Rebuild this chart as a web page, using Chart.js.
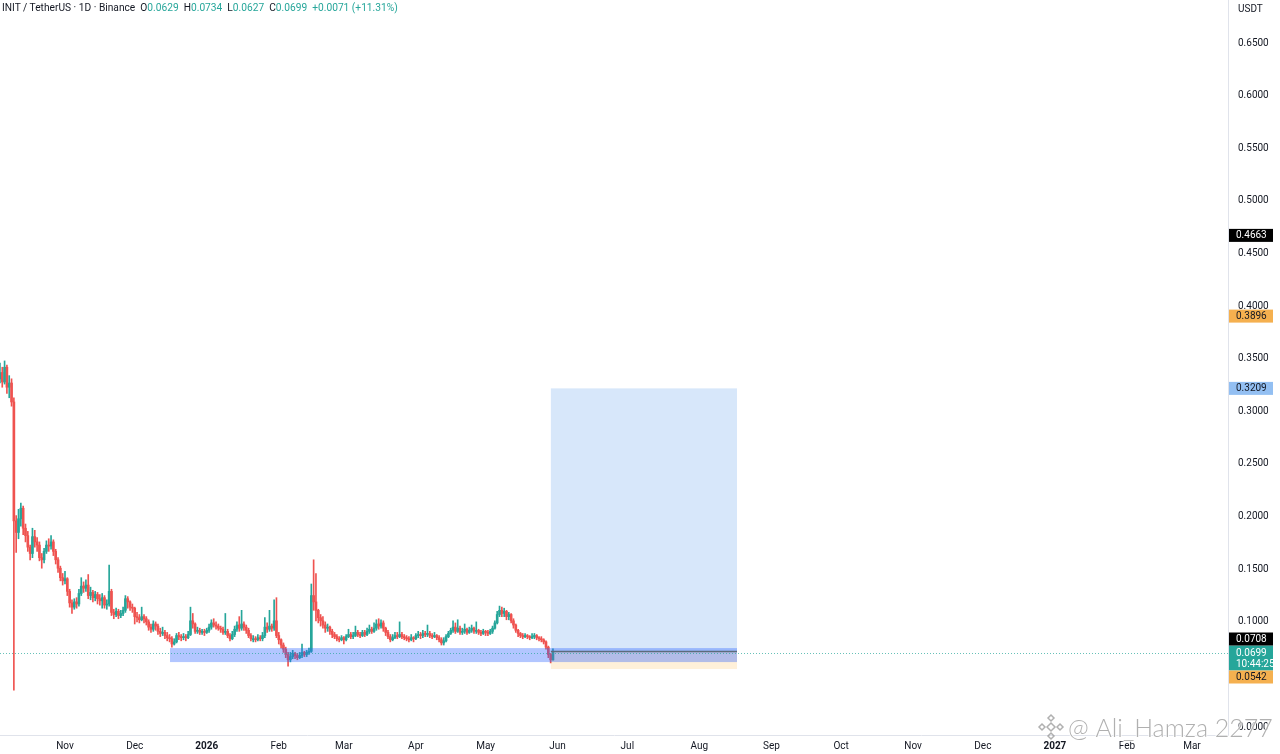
<!DOCTYPE html>
<html>
<head>
<meta charset="utf-8">
<script src="https://cdn.jsdelivr.net/npm/chart.js@4.4.1/dist/chart.umd.min.js"></script>
<style>
  html, body { margin: 0; padding: 0; background: #fff; }
  #wrap { position: relative; width: 1280px; height: 754px; }
  #header { position: absolute; left: 2px; top: 2px; font: 10.2px Roboto, sans-serif; color: #131722; white-space: pre; z-index: 2; }
  #header .v { color: #26a69a; }
</style>
</head>
<body>
<div id="wrap">
  <div id="header">INIT / TetherUS · 1D · Binance  O<span class="v">0.0629</span>  H<span class="v">0.0734</span>  L<span class="v">0.0627</span>  C<span class="v">0.0699</span>  <span class="v">+0.0071 (+11.31%)</span></div>
  <canvas id="chart" width="1280" height="754"></canvas>
</div>
<script>
// Daily candles, days counted from 1 Oct 2025 (first candle = day 3, last = day 241)
const firstDay = 3;
const firstOpen = 0.330;
const closes = [
  .336,.327,.341,.322,.326,.308,.195,.184,.197,.207,
  .188,.181,.170,.164,.180,.175,.172,.160,.158,.166,
  .172,.171,.175,.166,.158,.150,.141,.138,.140,.128,
  .117,.113,.118,.116,.126,.133,.131,.134,.124,.127,
  .122,.125,.121,.119,.122,.115,.116,.128,.108,.106,
  .109,.105,.107,.110,.121,.118,.113,.112,.104,.103,
  .101,.104,.102,.099,.094,.092,.097,.095,.090,.088,
  .089,.086,.084,.083,.078,.080,.086,.085,.084,.085,
  .084,.087,.100,.097,.090,.091,.089,.090,.089,.091,
  .094,.098,.096,.095,.093,.092,.089,.090,.086,.083,
  .087,.092,.096,.093,.097,.094,.091,.086,.083,.083,
  .082,.084,.083,.086,.094,.092,.095,.093,.100,.086,
  .082,.077,.073,.068,.063,.066,.069,.067,.065,.067,
  .070,.068,.070,.071,.124,.118,.110,.103,.100,.096,
  .093,.094,.090,.087,.085,.083,.082,.084,.082,.085,
  .087,.085,.086,.089,.087,.086,.089,.087,.090,.092,
  .090,.093,.097,.095,.098,.093,.089,.085,.082,.084,
  .086,.085,.087,.085,.084,.083,.082,.084,.083,.086,
  .087,.086,.088,.087,.088,.086,.085,.086,.084,.082,
  .079,.081,.085,.088,.091,.094,.090,.093,.089,.090,
  .092,.089,.091,.093,.090,.091,.089,.088,.090,.089,
  .088,.090,.093,.098,.106,.110,.107,.109,.104,.106,
  .100,.096,.091,.088,.086,.085,.086,.085,.084,.085,
  .086,.084,.083,.082,.080,.075,.068,.0629,.0699
];
const highs = [
  .345,.341,.347,.343,.333,.330,.312,.200,.206,.212,
  .209,.192,.185,.172,.188,.186,.179,.175,.164,.169,
  .176,.178,.181,.177,.168,.160,.152,.145,.147,.141,
  .130,.120,.121,.122,.130,.141,.137,.139,.144,.132,
  .129,.128,.127,.125,.126,.124,.120,.153,.130,.111,
  .112,.111,.110,.113,.124,.123,.119,.116,.113,.108,
  .106,.113,.106,.104,.101,.097,.100,.099,.097,.093,
  .094,.091,.089,.087,.085,.083,.088,.089,.087,.088,
  .087,.090,.113,.107,.098,.094,.093,.092,.092,.093,
  .097,.101,.102,.099,.097,.095,.094,.107,.092,.088,
  .090,.095,.099,.104,.110,.099,.096,.093,.088,.086,
  .085,.087,.086,.089,.103,.098,.110,.097,.120,.122,
  .089,.083,.079,.075,.070,.070,.072,.070,.069,.070,
  .078,.071,.072,.074,.135,.158,.145,.111,.106,.104,
  .099,.097,.095,.092,.089,.087,.085,.086,.085,.087,
  .092,.089,.089,.095,.091,.089,.091,.091,.093,.096,
  .094,.098,.101,.102,.101,.100,.094,.091,.087,.087,
  .089,.089,.099,.089,.087,.086,.085,.087,.085,.088,
  .090,.089,.091,.090,.096,.090,.088,.089,.087,.086,
  .084,.084,.087,.090,.093,.100,.098,.101,.095,.093,
  .097,.093,.094,.096,.094,.099,.092,.091,.092,.091,
  .091,.092,.095,.100,.109,.114,.113,.112,.110,.108,
  .107,.102,.097,.092,.089,.088,.088,.087,.086,.088,
  .088,.087,.085,.085,.083,.081,.076,.069,.0734
];
const lows = [
  .326,.322,.325,.316,.312,.304,.034,.165,.178,.190,
  .182,.175,.166,.158,.160,.170,.166,.157,.150,.155,
  .164,.166,.168,.162,.154,.146,.138,.134,.135,.124,
  .113,.107,.111,.112,.114,.124,.127,.128,.121,.120,
  .118,.119,.116,.115,.112,.112,.111,.114,.105,.102,
  .104,.102,.103,.105,.108,.112,.110,.108,.097,.099,
  .098,.100,.098,.096,.091,.089,.090,.091,.087,.085,
  .086,.083,.081,.080,.075,.077,.079,.082,.081,.082,
  .081,.083,.086,.093,.088,.088,.087,.087,.086,.088,
  .089,.092,.094,.092,.091,.089,.087,.087,.084,.081,
  .082,.085,.090,.090,.091,.091,.088,.084,.081,.080,
  .080,.081,.081,.081,.084,.089,.090,.090,.091,.084,
  .078,.074,.070,.065,.057,.061,.064,.064,.063,.064,
  .065,.066,.066,.068,.070,.110,.100,.098,.095,.093,
  .089,.090,.087,.084,.083,.081,.080,.081,.078,.081,
  .084,.083,.083,.085,.085,.084,.085,.085,.086,.088,
  .088,.089,.091,.092,.093,.090,.086,.083,.080,.081,
  .083,.083,.084,.083,.082,.081,.080,.081,.080,.082,
  .084,.083,.084,.085,.085,.084,.083,.084,.082,.080,
  .077,.077,.080,.084,.087,.089,.088,.089,.087,.087,
  .088,.087,.088,.089,.088,.088,.087,.086,.087,.086,
  .086,.087,.088,.092,.097,.104,.104,.104,.101,.101,
  .098,.093,.089,.085,.084,.083,.084,.083,.082,.083,
  .083,.082,.081,.080,.078,.073,.065,.060,.0627
];

// axes
const dayRange = [3.03, 531.5];
const priceRange = [-0.0085, 0.69];
const yTicks = [0, 0.1, 0.15, 0.2, 0.25, 0.3, 0.35, 0.4, 0.45, 0.5, 0.55, 0.6, 0.65];
const monthDays = [31, 61, 92, 123, 151, 182, 212, 243, 273, 304, 335, 365, 396, 426, 457, 488, 516];
const monthLabels = ["Nov", "Dec", "2026", "Feb", "Mar", "Apr", "May", "Jun", "Jul", "Aug", "Sep", "Oct", "Nov", "Dec", "2027", "Feb", "Mar"];

// drawings
const zoneDays = [76.2, 320.2];
const zonePrices = [0.0608, 0.0741];
const posDays = [240.1, 320.2];
const posEntry = 0.0708, posTarget = 0.3209, posStop = 0.0542;
const lastPrice = 0.0699;
const countdown = "10:44:25";
const extraLabels = [
  { v: 0.4663, bg: "#000000", fg: "#ffffff" },
  { v: 0.3896, bg: "#f5b04f", fg: "#131722" },
  { v: 0.3209, bg: "#93bff2", fg: "#131722" }
];

const UP = "#26a69a", DOWN = "#ef5350";

/* ---------- BUILD CANDLES ---------- */
const wickData = [], bodyData = [], colors = [];
closes.forEach((c, i) => {
  const o = i === 0 ? firstOpen : closes[i - 1];
  const d = firstDay + i;
  const hi = Math.max(highs[i], o, c), lo = Math.min(lows[i], o, c);
  wickData.push({ x: d, y: [lo, hi] });
  bodyData.push({ x: d, y: [o, c] });
  colors.push(c >= o ? UP : DOWN);
});

/* ---------- OVERLAY PLUGIN ---------- */
const overlay = {
  id: "overlay",
  afterDatasetsDraw(chart) {
    const { ctx, chartArea: a, scales: { x, y } } = chart;
    const rect = (d0, d1, p0, p1, fill) => {
      const x0 = x.getPixelForValue(d0), x1 = x.getPixelForValue(d1);
      const y0 = y.getPixelForValue(p0), y1 = y.getPixelForValue(p1);
      ctx.fillStyle = fill;
      ctx.fillRect(x0, Math.min(y0, y1), x1 - x0, Math.abs(y1 - y0));
    };
    ctx.save();
    rect(posDays[0], posDays[1], posEntry, posTarget, "rgba(33,120,230,0.18)");
    rect(posDays[0], posDays[1], posStop, posEntry, "rgba(255,152,0,0.15)");
    rect(zoneDays[0], zoneDays[1], zonePrices[0], zonePrices[1], "rgba(41,98,255,0.36)");
    // entry line
    ctx.strokeStyle = "#5d6b7a"; ctx.lineWidth = 1.5;
    const ye = y.getPixelForValue(posEntry);
    ctx.beginPath(); ctx.moveTo(x.getPixelForValue(posDays[0]), ye); ctx.lineTo(x.getPixelForValue(posDays[1]), ye); ctx.stroke();
    // last price dotted line
    const yl = Math.round(y.getPixelForValue(lastPrice)) + 0.5;
    ctx.strokeStyle = "rgba(38,166,154,0.7)"; ctx.lineWidth = 1; ctx.setLineDash([1, 2]);
    ctx.beginPath(); ctx.moveTo(a.left, yl); ctx.lineTo(a.right, yl); ctx.stroke();
    ctx.restore();
  },
  afterDraw(chart) {
    const { ctx, chartArea: a, scales: { y } } = chart;
    const lx = a.right + 1, lw = 44, lh = 13;
    ctx.save();
    ctx.font = "10px Roboto, sans-serif";
    ctx.textBaseline = "middle";
    const label = (txt, cy, bg, fg) => {
      ctx.fillStyle = bg; ctx.fillRect(lx, cy - lh / 2, lw, lh);
      ctx.fillStyle = fg; ctx.fillText(txt, a.right + 8, cy + 0.5);
    };
    extraLabels.forEach(l => label(l.v.toFixed(4), y.getPixelForValue(l.v), l.bg, l.fg));
    // last price box with countdown
    const yl = y.getPixelForValue(lastPrice);
    const top = yl - 7, bot = yl + 18;
    ctx.fillStyle = UP; ctx.fillRect(lx, top, lw, bot - top);
    ctx.fillStyle = "#ffffff";
    ctx.fillText(lastPrice.toFixed(4), a.right + 8, yl + 0.5);
    ctx.fillText(countdown, a.right + 8, yl + 11.5);
    label(posEntry.toFixed(4), Math.min(y.getPixelForValue(posEntry), top - lh / 2), "#000000", "#ffffff");
    label(posStop.toFixed(4), Math.max(y.getPixelForValue(posStop), bot + lh / 2), "#f5b04f", "#131722");
    // unit
    ctx.fillStyle = "#131722";
    ctx.fillText("USDT", a.right + 10, 9);
    // watermark
    ctx.font = "300 25px Lato, sans-serif";
    ctx.textBaseline = "alphabetic";
    ctx.lineWidth = 2; ctx.strokeStyle = "rgba(255,255,255,0.8)";
    ctx.strokeText("@ Ali_Hamza 2277", 1068, 737);
    ctx.fillStyle = "rgba(150,150,150,0.75)";
    ctx.fillText("@ Ali_Hamza 2277", 1068, 737);
    // logo
    ctx.strokeStyle = "rgba(150,150,150,0.75)"; ctx.lineWidth = 1.5;
    const dia = (cx, cy, r) => {
      ctx.beginPath(); ctx.moveTo(cx, cy - r); ctx.lineTo(cx + r, cy); ctx.lineTo(cx, cy + r); ctx.lineTo(cx - r, cy); ctx.closePath(); ctx.stroke();
    };
    dia(1051, 727, 4); dia(1051, 718, 3); dia(1051, 736, 3); dia(1042, 727, 3); dia(1060, 727, 3);
    ctx.restore();
  }
};

/* ---------- CHART ---------- */
new Chart(document.getElementById("chart"), {
  type: "bar",
  data: {
    datasets: [
      { data: wickData, backgroundColor: colors, barThickness: 1 },
      { data: bodyData, backgroundColor: colors, barThickness: 2, minBarLength: 1 }
    ]
  },
  options: {
    responsive: false,
    animation: false,
    layout: { padding: 0 },
    datasets: { bar: { grouped: false } },
    plugins: { legend: { display: false }, tooltip: { enabled: false } },
    scales: {
      x: {
        type: "linear", offset: false, min: dayRange[0], max: dayRange[1],
        grid: { display: false, drawTicks: false },
        border: { display: true, color: "#e0e3eb" },
        afterBuildTicks: s => { s.ticks = monthDays.map(v => ({ value: v })); },
        afterFit: s => { s.height = 19; s.paddingLeft = 0; s.paddingRight = 0; },
        ticks: {
          autoSkip: false, maxRotation: 0, padding: 5, color: "#131722",
          font: c => ({ family: "Roboto, sans-serif", size: 10, weight: /^\d{4}$/.test(monthLabels[c.index]) ? "bold" : "normal" }),
          callback: (v, i) => monthLabels[i]
        }
      },
      y: {
        position: "right", min: priceRange[0], max: priceRange[1],
        grid: { display: false, drawTicks: false },
        border: { display: true, color: "#e0e3eb" },
        afterBuildTicks: s => { s.ticks = yTicks.map(v => ({ value: v })); },
        afterFit: s => { s.width = 52; s.paddingTop = 0; s.paddingBottom = 0; },
        ticks: {
          autoSkip: false, padding: 10, labelOffset: 1, color: "#131722",
          font: { family: "Roboto, sans-serif", size: 10 },
          callback: v => v.toFixed(4)
        }
      }
    }
  },
  plugins: [overlay]
});
</script>
</body>
</html>
